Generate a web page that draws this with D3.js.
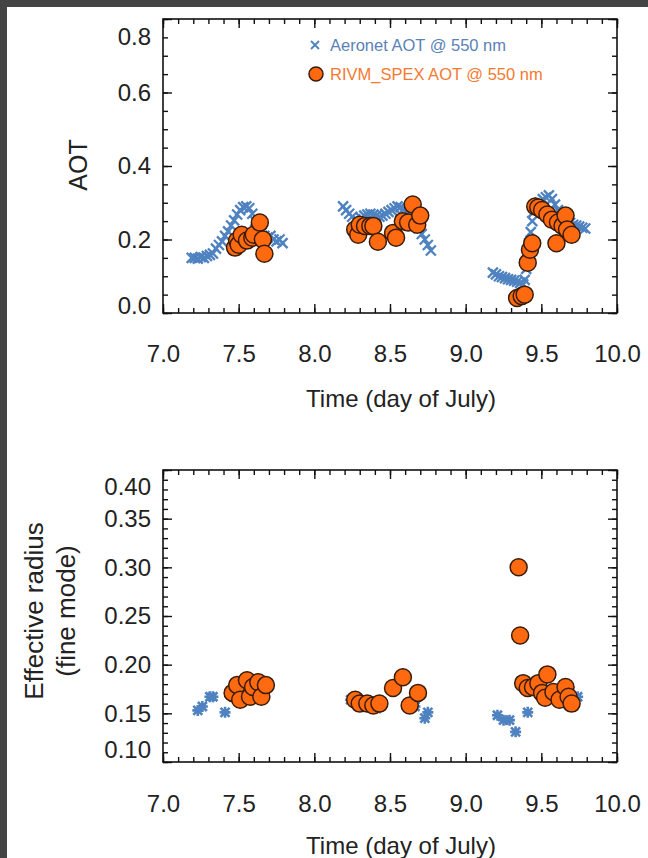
<!DOCTYPE html>
<meta charset="utf-8">
<title>AOT and effective radius</title>
<style>
  body { margin: 0; background: #fff; }
  text { font-family: "Liberation Sans", Arial, sans-serif; fill: #222; }
  .frame { fill: none; stroke: #111; stroke-width: 1.6px; }
  .tick line { stroke: #111; stroke-width: 1.4px; }
  .domain { display: none; }
</style>
<body>
<script src="https://cdn.jsdelivr.net/npm/d3@7"></script>
<script>

// ---- data ----
var xTicks = [7.0, 7.5, 8.0, 8.5, 9.0, 9.5, 10.0];
var aotTicks = [0.0, 0.2, 0.4, 0.6, 0.8];
var reffTicks = [0.10, 0.15, 0.20, 0.25, 0.30, 0.35, 0.40];

// Aeronet AOT @ 550 nm
var aeroAotT = [7.19, 7.21, 7.23, 7.25, 7.27, 7.29, 7.31, 7.33, 7.35, 7.37, 7.39, 7.41, 7.43, 7.45, 7.47, 7.49,
  7.51, 7.53, 7.55, 7.57, 7.59, 7.61, 7.63, 7.65, 7.67, 7.69, 7.71, 7.73, 7.75, 7.77, 7.79,
  8.19, 8.21, 8.23, 8.25, 8.27, 8.29, 8.31, 8.33, 8.35, 8.37, 8.39, 8.41, 8.43, 8.45, 8.47, 8.49,
  8.51, 8.53, 8.55, 8.57, 8.59, 8.61, 8.63, 8.65, 8.67, 8.69, 8.71, 8.73, 8.75, 8.77,
  9.18, 9.20, 9.22, 9.24, 9.26, 9.28, 9.30, 9.32, 9.34, 9.36, 9.38, 9.39, 9.40, 9.41, 9.42, 9.43,
  9.44, 9.45, 9.47, 9.49, 9.51, 9.53, 9.55, 9.57, 9.59, 9.61, 9.63, 9.65, 9.67, 9.69, 9.71, 9.73,
  9.75, 9.77, 9.79];
var aeroAotV = [0.150, 0.150, 0.148, 0.152, 0.150, 0.155, 0.158, 0.162, 0.175, 0.185, 0.195, 0.210, 0.222, 0.238, 0.252, 0.268,
  0.280, 0.288, 0.290, 0.285, 0.270, 0.250, 0.232, 0.220, 0.210, 0.205, 0.210, 0.200, 0.195, 0.200, 0.190,
  0.290, 0.280, 0.270, 0.262, 0.255, 0.250, 0.258, 0.265, 0.268, 0.270, 0.268, 0.265, 0.262, 0.265, 0.270, 0.275,
  0.280, 0.285, 0.290, 0.288, 0.282, 0.278, 0.270, 0.260, 0.245, 0.230, 0.215, 0.200, 0.185, 0.170,
  0.110, 0.105, 0.100, 0.098, 0.095, 0.092, 0.090, 0.088, 0.085, 0.082, 0.078, 0.090, 0.120, 0.155, 0.190, 0.220,
  0.250, 0.275, 0.290, 0.300, 0.310, 0.315, 0.320, 0.310, 0.295, 0.280, 0.270, 0.260, 0.250, 0.245, 0.240, 0.238,
  0.235, 0.232, 0.230];

// RIVM_SPEX AOT @ 550 nm
var spexAotT = [7.476, 7.49, 7.50, 7.52, 7.555, 7.59, 7.60, 7.64, 7.66, 7.67,
  8.27, 8.29, 8.30, 8.335, 8.37, 8.39, 8.42, 8.52, 8.54, 8.585, 8.62, 8.65, 8.68, 8.70,
  9.34, 9.37, 9.39, 9.41, 9.425, 9.44, 9.46, 9.48, 9.505, 9.54, 9.57, 9.60, 9.61, 9.64, 9.66, 9.67, 9.70];
var spexAotV = [0.178, 0.197, 0.186, 0.213, 0.197, 0.205, 0.213, 0.246, 0.200, 0.161,
  0.227, 0.213, 0.240, 0.237, 0.237, 0.237, 0.194, 0.218, 0.205, 0.250, 0.246, 0.295, 0.240, 0.265,
  0.041, 0.046, 0.050, 0.137, 0.172, 0.190, 0.290, 0.287, 0.280, 0.268, 0.254, 0.190, 0.246, 0.237, 0.265, 0.227, 0.213];

// Aeronet effective radius (fine mode)
var aeroReffT = [7.23, 7.26, 7.31, 7.33, 7.41, 7.65,
  8.24, 8.28, 8.315, 8.41, 8.665, 8.73, 8.75,
  9.21, 9.25, 9.29, 9.33, 9.41, 9.57, 9.64, 9.68, 9.74];
var aeroReffV = [0.153, 0.157, 0.167, 0.167, 0.151, 0.171,
  0.164, 0.162, 0.160, 0.155, 0.157, 0.145, 0.151,
  0.148, 0.143, 0.143, 0.131, 0.151, 0.169, 0.166, 0.159, 0.167];

// RIVM_SPEX effective radius (fine mode)
var spexReffT = [7.46, 7.49, 7.51, 7.555, 7.575, 7.595, 7.63, 7.65, 7.68,
  8.27, 8.30, 8.35, 8.39, 8.43, 8.52, 8.585, 8.63, 8.685,
  9.35, 9.36, 9.38, 9.41, 9.445, 9.48, 9.505, 9.525, 9.54, 9.58, 9.62, 9.66, 9.68, 9.70];
var spexReffV = [0.171, 0.179, 0.164, 0.184, 0.167, 0.177, 0.182, 0.167, 0.179,
  0.164, 0.160, 0.160, 0.158, 0.160, 0.176, 0.187, 0.158, 0.171,
  0.300, 0.230, 0.181, 0.176, 0.177, 0.181, 0.171, 0.166, 0.190, 0.172, 0.164, 0.177, 0.167, 0.160];

var blue = '#4f82c0', orange = '#ff6a10', ring = '#3a1c08';

var W = 648, H = 858;
var svg = d3.select('body').append('svg').attr('width', W).attr('height', H);

// dark border of the screenshot
svg.append('rect').attr('width', W).attr('height', 7).attr('fill', '#444');
svg.append('rect').attr('width', 7).attr('height', H).attr('fill', '#444');

var x = d3.scaleLinear().domain([7, 10]).range([163, 617]);
var xMinor = d3.range(7, 10.001, 0.1);

function zip(t, v) { return t.map(function(d, i) { return {t: d, v: v[i]}; }); }

function panel(o) {
  var y = d3.scaleLinear().domain(o.domain).range([o.bottom, o.top]);
  var g = svg.append('g');

  // ticks, pointing inward on all four sides
  g.append('g').attr('transform', 'translate(0,' + o.bottom + ')')
    .call(d3.axisBottom(x).tickValues(xMinor).tickSize(-5).tickFormat(''));
  g.append('g').attr('transform', 'translate(0,' + o.top + ')')
    .call(d3.axisTop(x).tickValues(xMinor).tickSize(-5).tickFormat(''));
  g.append('g').attr('transform', 'translate(0,' + o.top + ')')
    .call(d3.axisTop(x).tickValues(xTicks).tickSize(-9).tickFormat(''));
  g.append('g').attr('transform', 'translate(0,' + o.bottom + ')')
    .call(d3.axisBottom(x).tickValues(xTicks).tickSize(-9).tickPadding(o.xPad).tickFormat(d3.format('.1f')))
    .selectAll('text').style('font-size', '24px');

  g.append('g').attr('transform', 'translate(163,0)')
    .call(d3.axisLeft(y).tickValues(o.minor).tickSize(-5).tickFormat(''));
  g.append('g').attr('transform', 'translate(617,0)')
    .call(d3.axisRight(y).tickValues(o.minor).tickSize(-5).tickFormat(''));
  g.append('g').attr('transform', 'translate(617,0)')
    .call(d3.axisRight(y).tickValues(o.ticks).tickSize(-9).tickFormat(''));
  var ya = g.append('g').attr('transform', 'translate(163,0)')
    .call(d3.axisLeft(y).tickValues(o.ticks).tickSize(-9).tickPadding(12).tickFormat(d3.format(o.fmt)));
  ya.selectAll('text').style('font-size', '24px')
    .attr('y', function(d, i) { return i === 0 ? o.nudge[0] : (i === o.ticks.length - 1 ? o.nudge[1] : 0); });

  g.append('rect').attr('class', 'frame')
    .attr('x', 163).attr('y', o.top).attr('width', 617 - 163).attr('height', o.bottom - o.top);

  // Aeronet crosses
  g.append('g').selectAll('path').data(zip(o.aeroT, o.aeroV)).enter().append('path')
    .attr('transform', function(d) { return 'translate(' + x(d.t) + ',' + y(d.v) + ')'; })
    .attr('d', o.star ? 'M-4.5,-4.5L4.5,4.5M-4.5,4.5L4.5,-4.5M0,-5.5L0,5.5M-5.5,0L5.5,0' : 'M-5,-5L5,5M-5,5L5,-5')
    .attr('stroke', blue).attr('stroke-width', o.star ? 2.6 : 2.3).attr('fill', 'none');

  // RIVM_SPEX circles
  g.append('g').selectAll('circle').data(zip(o.spexT, o.spexV)).enter().append('circle')
    .attr('cx', function(d) { return x(d.t); })
    .attr('cy', function(d) { return y(d.v); })
    .attr('r', 8.5)
    .attr('fill', orange).attr('stroke', ring).attr('stroke-width', 1.5);

  svg.append('text').attr('x', 401).attr('y', o.titleY).attr('text-anchor', 'middle')
    .style('font-size', '24px').text('Time (day of July)');
  return y;
}

panel({
  domain: [0, 0.8], top: 19, bottom: 313, xPad: 32, titleY: 407,
  ticks: aotTicks, minor: d3.range(0, 0.8001, 0.05), fmt: '.1f', nudge: [-7, 18],
  aeroT: aeroAotT, aeroV: aeroAotV, spexT: spexAotT, spexV: spexAotV, star: false
});
panel({
  domain: [0.1, 0.4], top: 470, bottom: 762, xPad: 33, titleY: 854,
  ticks: reffTicks, minor: d3.range(0.1, 0.4001, 0.01), fmt: '.2f', nudge: [-12, 17],
  aeroT: aeroReffT, aeroV: aeroReffV, spexT: spexReffT, spexV: spexReffV, star: true
});

// y axis titles
svg.append('text').attr('transform', 'translate(87,165)rotate(-90)').attr('text-anchor', 'middle')
  .style('font-size', '25px').text('AOT');
svg.append('text').attr('transform', 'translate(43,611)rotate(-90)').attr('text-anchor', 'middle')
  .style('font-size', '26px').text('Effective radius');
svg.append('text').attr('transform', 'translate(75,611)rotate(-90)').attr('text-anchor', 'middle')
  .style('font-size', '26px').text('(fine mode)');

// legend
var lg = svg.append('g');
lg.append('path').attr('transform', 'translate(315,45)').attr('d', 'M-4,-4L4,4M-4,4L4,-4')
  .attr('stroke', blue).attr('stroke-width', 1.8);
lg.append('text').attr('x', 330).attr('y', 51).style('font-size', '16.5px').style('fill', '#5a82b8')
  .text('Aeronet AOT @ 550 nm');
lg.append('circle').attr('cx', 316).attr('cy', 74).attr('r', 7)
  .attr('fill', orange).attr('stroke', ring).attr('stroke-width', 1.5);
lg.append('text').attr('x', 330).attr('y', 80).style('font-size', '16.5px').style('fill', '#f57a30')
  .text('RIVM_SPEX AOT @ 550 nm');

</script>
</body>
